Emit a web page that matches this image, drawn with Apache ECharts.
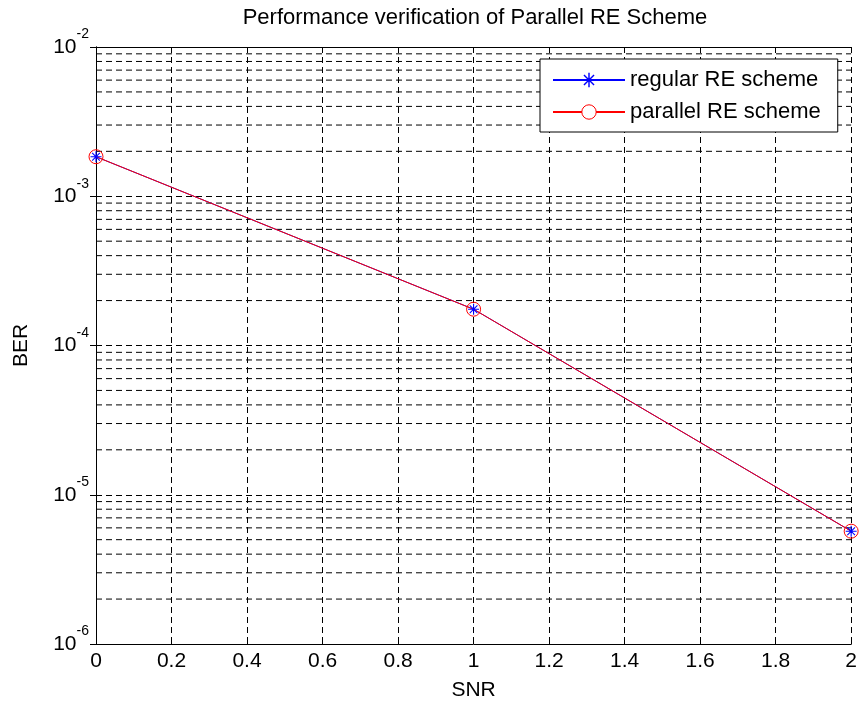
<!DOCTYPE html>
<html>
<head>
<meta charset="utf-8">
<title>Performance verification of Parallel RE Scheme</title>
<script src="https://cdn.jsdelivr.net/npm/echarts@6/dist/echarts.min.js"></script>
<style>
  html, body { margin: 0; padding: 0; background: #fff; }
  #chart { width: 860px; height: 706px; }
</style>
</head>
<body>
<div id="chart"></div>
<script>
  // 横轴 SNR
  const snr = [0, 1, 2]
  // 两条曲线的 BER（从图上读出，两者几乎重合）
  const regularBer = [1.84e-3, 1.75e-4, 5.7e-6]
  const parallelBer = [1.84e-3, 1.75e-4, 5.7e-6]
  const seriesNames = ['regular RE scheme', 'parallel RE scheme']
  // y 轴十进制刻度的指数，以及每个十进制内的次网格
  const decades = [-6, -5, -4, -3]
  const minorSteps = [2, 3, 4, 5, 6, 7, 8, 9]
  const xRange = [0, 2]

  const fontFamily = "'Liberation Sans', Arial, Helvetica, sans-serif"
  const gridDash = [6, 4]
  // MATLAB 风格的星号标记
  const asterisk = 'path://M-0.5,-5h1v10h-1z M-5,-0.5h10v1h-10z ' +
    'M-3.15,-3.85L3.85,3.15L3.15,3.85L-3.85,-3.15z M-3.85,3.15L3.15,-3.85L3.85,-3.15L-3.15,3.85z'

  // 次网格线：每个值一条横跨 x 范围的虚线
  let minorGridSeries = []
  decades.forEach(d => {
    minorSteps.forEach(k => {
      let v = k * Math.pow(10, d)
      minorGridSeries.push({
        name: 'grid' + v,
        type: 'line',
        silent: true,
        z: 1,
        symbol: 'none',
        lineStyle: { color: '#000', type: gridDash, width: 1 },
        emphasis: { disabled: true },
        data: [[xRange[0], v], [xRange[1], v]]
      })
    })
  })

  const myChart = echarts.init(document.getElementById('chart'))

  const axisLine = { show: true, lineStyle: { color: '#000', width: 1 } }
  const axisTick = { show: true, inside: true, length: 6, lineStyle: { color: '#000' } }

  const option = {
    animation: false,
    backgroundColor: '#fff',
    title: {
      text: 'Performance verification of Parallel RE Scheme',
      left: 475,
      top: 7,
      padding: 0,
      textAlign: 'center',
      textStyle: { fontFamily: fontFamily, fontSize: 22, fontWeight: 'normal', color: '#000' }
    },
    legend: {
      orient: 'vertical',
      left: 540,
      top: 59,
      padding: [10, 17, 9, 12],
      itemWidth: 72,
      itemHeight: 18,
      itemGap: 10,
      backgroundColor: '#fff',
      borderColor: '#000',
      borderWidth: 1,
      borderRadius: 0,
      selectedMode: false,
      z: 10,
      textStyle: { fontFamily: fontFamily, fontSize: 22, color: '#000' },
      data: [
        { name: seriesNames[0] },
        { name: seriesNames[1], itemStyle: { color: '#fff', borderColor: '#ff0000', borderWidth: 1 } }
      ]
    },
    grid: {
      left: 96,
      right: 2,
      top: 47,
      bottom: 61,
      containLabel: false
    },
    xAxis: [
      {
        type: 'value',
        position: 'bottom',
        min: xRange[0],
        max: xRange[1],
        interval: 0.2,
        name: 'SNR',
        nameLocation: 'middle',
        nameGap: 36,
        nameTextStyle: { fontFamily: fontFamily, fontSize: 21, color: '#000' },
        axisLine: axisLine,
        axisTick: axisTick,
        axisLabel: { fontFamily: fontFamily, fontSize: 21, color: '#000', margin: 7 },
        splitLine: { show: true, lineStyle: { color: '#000', type: gridDash, width: 1 } }
      },
      {
        type: 'value',
        position: 'top',
        min: xRange[0],
        max: xRange[1],
        interval: 0.2,
        axisLine: axisLine,
        axisTick: axisTick,
        axisLabel: { show: false },
        splitLine: { show: false }
      }
    ],
    yAxis: [
      {
        type: 'log',
        logBase: 10,
        min: 1e-6,
        max: 1e-2,
        splitNumber: 4,
        name: 'BER',
        nameLocation: 'middle',
        nameGap: 64,
        nameTextStyle: { fontFamily: fontFamily, fontSize: 21, color: '#000' },
        axisLine: axisLine,
        axisTick: axisTick,
        axisLabel: {
          margin: 7,
          formatter: function (value) {
            let e = Math.round(Math.log10(value))
            return '{b|10}{s|' + e + '}'
          },
          rich: {
            b: { fontFamily: fontFamily, fontSize: 21, color: '#000', verticalAlign: 'middle' },
            s: { fontFamily: fontFamily, fontSize: 14, color: '#000', verticalAlign: 'middle', padding: [0, 0, 25, 0] }
          }
        },
        splitLine: { show: true, lineStyle: { color: '#000', type: gridDash, width: 1 } }
      },
      {
        type: 'log',
        logBase: 10,
        min: 1e-6,
        max: 1e-2,
        splitNumber: 4,
        position: 'right',
        axisLine: axisLine,
        axisTick: axisTick,
        axisLabel: { show: false },
        splitLine: { show: false }
      }
    ],
    series: minorGridSeries.concat([
      {
        name: seriesNames[0],
        type: 'line',
        xAxisIndex: 0,
        yAxisIndex: 0,
        clip: false,
        z: 3,
        symbol: asterisk,
        symbolSize: 11,
        lineStyle: { color: '#0000ff', width: 1 },
        itemStyle: { color: '#0000ff' },
        emphasis: { disabled: true },
        data: snr.map((x, i) => [x, regularBer[i]])
      },
      {
        name: seriesNames[1],
        type: 'line',
        xAxisIndex: 0,
        yAxisIndex: 0,
        clip: false,
        z: 3,
        symbol: 'circle',
        symbolSize: 14,
        lineStyle: { color: '#ff0000', width: 1 },
        itemStyle: { color: 'transparent', borderColor: '#ff0000', borderWidth: 1 },
        emphasis: { disabled: true },
        data: snr.map((x, i) => [x, parallelBer[i]])
      }
    ])
  }

  myChart.setOption(option)
</script>
</body>
</html>
